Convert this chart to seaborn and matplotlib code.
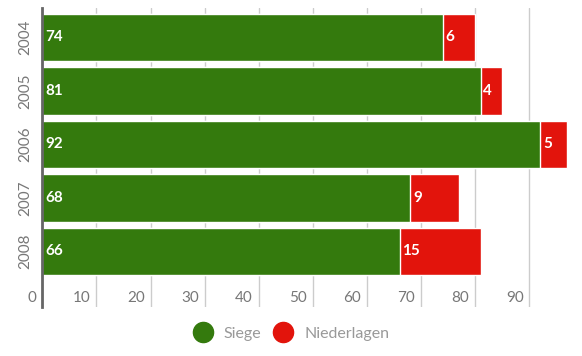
import matplotlib
matplotlib.use("Agg")
import matplotlib.pyplot as plt
import matplotlib.transforms as mtransforms
from matplotlib.lines import Line2D
import pandas as pd
import seaborn as sns

years = ["2004", "2005", "2006", "2007", "2008"]
siege = [74, 81, 92, 68, 66]
niederlagen = [6, 4, 5, 9, 15]
x_ticks = [0, 10, 20, 30, 40, 50, 60, 70, 80, 90]

green = "#347a0d"
red = "#e2140c"

df = pd.DataFrame({"jahr": years, "siege": siege, "niederlagen": niederlagen})
df["gesamt"] = df["siege"] + df["niederlagen"]

sns.set_style("white")
plt.rcParams["font.family"] = ["Lato", "DejaVu Sans"]

fig = plt.figure(figsize=(5.82, 3.56), dpi=100)
ax = fig.add_axes([0.0727, 0.1376, 0.9273, 0.84])

# stacked bars: total in red, wins drawn over it in green
sns.barplot(data=df, x="gesamt", y="jahr", orient="h", color=red,
            saturation=1, width=0.89, ax=ax)
sns.barplot(data=df, x="siege", y="jahr", orient="h", color=green,
            saturation=1, width=0.89, ax=ax)

# value labels inside the bars
for i, row in df.iterrows():
    ax.text(0.6, i, str(row["siege"]), color="white", fontsize=11,
            fontweight="bold", va="center", ha="left")
    ax.text(row["siege"] + 0.5, i, str(row["niederlagen"]), color="white",
            fontsize=11, fontweight="bold", va="center", ha="left")

ax.set_xlim(0, 99.7)
ax.set_ylim(5.04, -0.55)
ax.set_xlabel("")
ax.set_ylabel("")

ax.set_xticks(x_ticks)
ax.tick_params(axis="x", length=0, labelbottom=False)
ax.grid(axis="x", color="#cccccc", lw=1)
ax.set_axisbelow(True)

# x labels sit inside the plot, just left of each gridline
trans = mtransforms.blended_transform_factory(ax.transData, ax.transAxes)
for t in x_ticks:
    ax.text(t - 1.1, 0.031, str(t), transform=trans, ha="right",
            va="center", fontsize=11, color="#777777")

ax.tick_params(axis="y", length=0, pad=7, labelsize=11, labelcolor="#777777")
for lab in ax.get_yticklabels():
    lab.set_rotation(90)
    lab.set_va("center")

for s in ["top", "right", "bottom"]:
    ax.spines[s].set_visible(False)
ax.spines["left"].set_color("#666666")
ax.spines["left"].set_linewidth(2)

handles = [
    Line2D([], [], marker="o", ls="", color=green, markersize=14.5, label="Siege"),
    Line2D([], [], marker="o", ls="", color=red, markersize=14.5, label="Niederlagen"),
]
leg = fig.legend(handles=handles, loc="center", bbox_to_anchor=(0.5, 0.063),
                 ncol=2, frameon=False, fontsize=11.5, handlelength=1.2,
                 handletextpad=0.7, columnspacing=0.8)
for txt in leg.get_texts():
    txt.set_color("#999999")

fig.savefig("out.png", dpi=100)
